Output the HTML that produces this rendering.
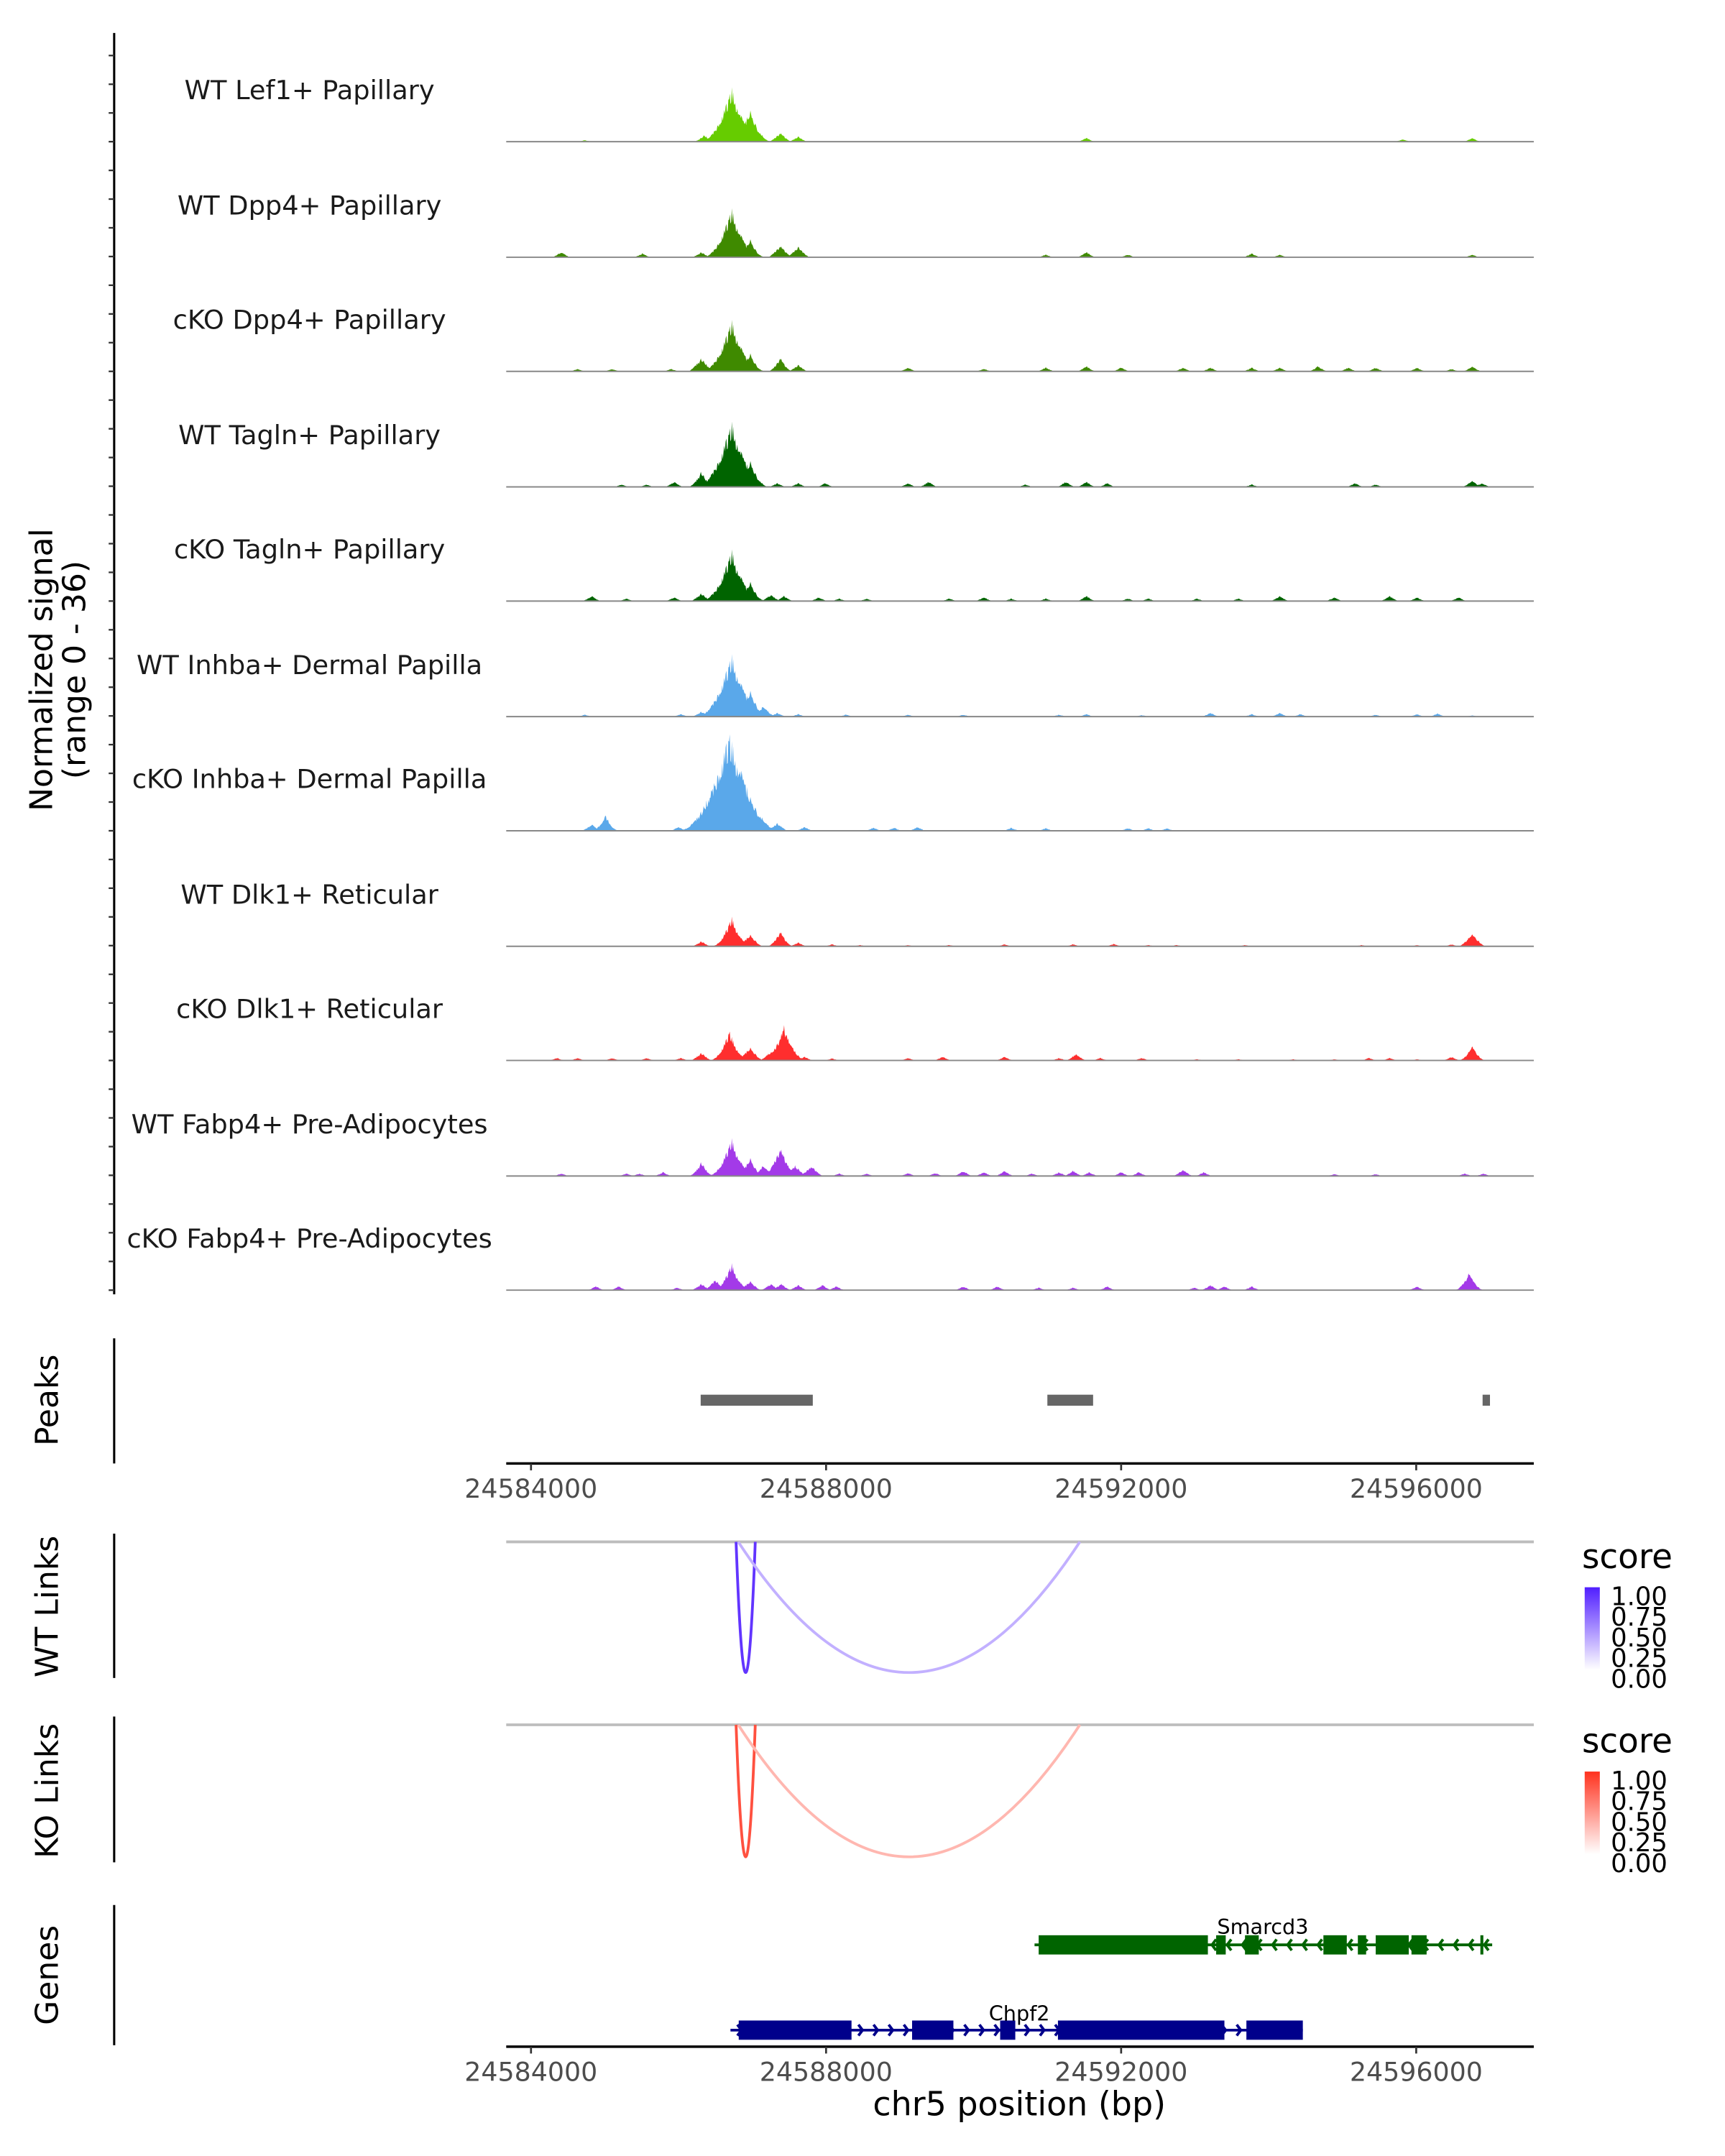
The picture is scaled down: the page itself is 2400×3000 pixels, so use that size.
<!DOCTYPE html>
<html><head><meta charset="utf-8"><style>
html,body{margin:0;padding:0;background:#fff}
svg{display:block}
text{font-family:"DejaVu Sans","Liberation Sans",sans-serif}
</style></head><body>
<svg id="fig" width="2400" height="3000" viewBox="0 0 1254 1567.5" preserveAspectRatio="none" xmlns="http://www.w3.org/2000/svg">
<g id="axes"></g>
<g id="tracks"></g>
<g id="lower"></g>
</svg>
<script>
// ---- data ----
const trackNames = ["WT Lef1+ Papillary","WT Dpp4+ Papillary","cKO Dpp4+ Papillary","WT Tagln+ Papillary","cKO Tagln+ Papillary","WT Inhba+ Dermal Papilla","cKO Inhba+ Dermal Papilla","WT Dlk1+ Reticular","cKO Dlk1+ Reticular","WT Fabp4+ Pre-Adipocytes","cKO Fabp4+ Pre-Adipocytes"];
const trackColors = ["#66cc00","#3f8a00","#3f8a00","#006400","#006400","#5aa8ea","#5aa8ea","#ff2e2e","#ff2e2e","#a33ae8","#a33ae8"];
const t1Pos=[24586720,24586970,24586350,24587380,24587620,24591530,24596760,24595820,24584730];
const t1Val=[20,12,2.5,3.5,2,1.5,1.5,1,0.6];
const t2Pos=[24586720,24586970,24587380,24587620,24586310,24584410,24585510,24591530,24590980,24592090,24593770,24594150,24596760];
const t2Val=[18,7,4.5,4,2,2,1.5,2,1,1,1.5,1,1];
const t3Pos=[24586720,24586970,24586310,24587380,24587620,24584630,24585100,24585900,24589110,24590140,24590980,24591530,24592000,24592840,24593210,24593770,24594150,24594670,24595080,24595450,24596010,24596760,24596480];
const t3Val=[19,7,5,5.5,2.5,1,1,1,1.5,1,1.5,2,1.5,1.5,1.5,1.5,1.5,2,1.5,1.5,1.5,2,1];
const t4Pos=[24586720,24586970,24586310,24585940,24587340,24587620,24587990,24585230,24585570,24589110,24589390,24590700,24591250,24591530,24591810,24593770,24595170,24595450,24596760,24596890];
const t4Val=[24,10,6,2,1.5,1.5,1.5,1,1,1.5,2,1,2,2,1.5,1,1.5,1,2.5,1.5];
const t5Pos=[24586720,24586970,24586310,24586500,24587250,24587430,24584820,24585290,24585940,24587900,24588180,24588550,24589670,24590140,24590510,24590980,24591530,24592090,24592370,24593030,24593590,24594150,24594890,24595640,24596010,24596570];
const t5Val=[19,7.5,3,4,2.5,2,2,1,1.5,1.5,1,1,1,1.5,1,1,2,1,1,1,1,2,1.5,2,1.5,1.5];
const t6Pos=[24586720,24586970,24587150,24586310,24587340,24587620,24584730,24586030,24588270,24589110,24589860,24591160,24591530,24592280,24593210,24593770,24594150,24594430,24595450,24596010,24596290,24596760];
const t6Val=[23,10,4,2,1.5,1,0.8,1,0.8,0.8,0.8,0.8,1,0.6,1.5,1,1.5,1,0.8,1,1.2,0.5];
const t7Pos=[24586690,24586820,24586970,24586500,24586310,24587340,24587710,24585010,24584820,24586000,24588640,24588920,24589240,24590510,24590980,24592090,24592370,24592620];
const t7Val=[36,25,12,4,2.5,3,1.5,6,2.5,1.5,1.2,1.2,1.5,1.2,1,1,1,1];
const t8Pos=[24586720,24586970,24587380,24586310,24587620,24596760,24588080,24588460,24589110,24589670,24590420,24591350,24591900,24592370,24592750,24593680,24595260,24596010,24596480];
const t8Val=[11,4.5,6,2,1.5,5,0.8,0.5,0.5,0.5,0.8,0.8,1,0.5,0.5,0.5,0.5,0.5,0.8];
const t9Pos=[24586690,24586970,24587430,24587250,24586310,24586030,24587710,24584350,24584630,24585100,24585570,24588080,24589110,24589580,24590420,24591160,24591390,24591720,24592280,24593030,24593590,24594330,24594890,24595360,24595640,24596010,24596480,24596760];
const t9Val=[11,5,13,3.5,3,1,1.5,1,1,1,1,0.8,1,1.5,1.5,1,2.5,1,1,0.5,0.5,0.5,0.5,1,1,0.5,1.5,6];
const t10Pos=[24586720,24587380,24586310,24586970,24587150,24587580,24587800,24584410,24585290,24585470,24585790,24588180,24588550,24589110,24589480,24589860,24590140,24590420,24590790,24591160,24591350,24591570,24592000,24592240,24592840,24593120,24594890,24595450,24596660,24596910];
const t10Val=[14,11,5.5,7,4,4,4,1,1,1,1.5,1,1,1.2,1.2,2,1.5,2,1,1.5,2,1.5,1.5,1.5,2.5,1.5,0.8,0.8,1,1];
const t11Pos=[24586720,24586500,24586310,24586970,24587250,24587390,24587620,24587950,24588140,24584880,24585190,24585980,24589860,24590320,24590880,24591350,24591810,24592990,24593210,24593400,24593770,24596010,24596720];
const t11Val=[10,4,2.5,3.5,2.5,2.5,2,2,1.5,1.5,1.5,1,1.5,1.5,1,1,1.5,1,2,1.5,1.5,1.5,7];
const trackPos=[t1Pos,t2Pos,t3Pos,t4Pos,t5Pos,t6Pos,t7Pos,t8Pos,t9Pos,t10Pos,t11Pos];
const trackVal=[t1Val,t2Val,t3Val,t4Val,t5Val,t6Val,t7Val,t8Val,t9Val,t10Val,t11Val];
const peakStarts=[24586300,24591000,24596900];
const peakEnds=[24587820,24591620,24597000];
const xTicks=[24584000,24588000,24592000,24596000];
const wtLinkStart=[24586780,24586810];
const wtLinkEnd=[24587040,24591440];
const wtLinkScore=[0.85,0.3];
const koLinkStart=[24586780,24586810];
const koLinkEnd=[24587040,24591440];
const koLinkScore=[0.8,0.3];
const smarcd3Exons=[[24590882,24593176],[24593288,24593418],[24593679,24593866],[24594742,24595059],[24595209,24595321],[24595451,24595899],[24595936,24596141],[24596870,24596910]];
const smarcd3End=24597030;
const chpf2Exons=[[24586816,24588345],[24589166,24589726],[24590360,24590565],[24591143,24593400],[24593698,24594463]];
const legendLabels=["1.00","0.75","0.50","0.25","0.00"];

// ---- scales ----
const NS="http://www.w3.org/2000/svg";
const X0=368,X1=1115,BP0=24583664,BP1=24597594;
function xs(bp){return X0+(bp-BP0)/(BP1-BP0)*(X1-X0);}
const UNIT=2.03;
function mk(tag,attrs,parent,txt){const e=document.createElementNS(NS,tag);for(const k in attrs)e.setAttribute(k,attrs[k]);if(txt!==undefined)e.textContent=txt;parent.appendChild(e);return e;}
const axes=document.getElementById('axes'),tracksG=document.getElementById('tracks'),lower=document.getElementById('lower');
function rough(px){const s=Math.sin(px*12.9898)*43758.5453;return s-Math.floor(s);}

let a=mk('line',{x1:83,y1:24,x2:83,y2:941,stroke:'#000','stroke-width':1.6},axes);


for(let y=103-20.875*3;y<=940;y+=20.875){mk('line',{x1:79,y1:y,x2:83,y2:y,stroke:'#333','stroke-width':1.2},axes);}
let yt=mk('text',{x:0,y:0,'font-size':23,'text-anchor':'middle',fill:'#000',transform:'translate(42,487) rotate(-90)'},axes);


mk('tspan',{x:0,dy:-4},yt,'Normalized signal');
mk('tspan',{x:0,dy:24},yt,'(range 0 - 36)');

const baselines=[103,187,270,354,437,521,604,688,771,855,938];
trackNames.forEach((name,i)=>{
  const g=mk('g',{},tracksG);
  
  
  const b=baselines[i];
  const lab=mk('text',{x:225,y:b-31,'font-size':19.2,'text-anchor':'middle',fill:'#1a1a1a'},g,name);
  
  
  const pos=trackPos[i],val=trackVal[i];
  let d='M'+X0+','+b;
  for(let px=X0;px<=1082;px+=0.5){
    let v=0;
    for(let k=0;k<pos.length;k++){
      const c=xs(pos[k]);const w=5+val[k]*0.9;const dd=Math.abs(px-c)/w;
      if(dd<1){const s=val[k]*Math.pow(1-dd,val[k]>5?2:1.3);v=Math.max(v,s);}
    }
    v=v*(1-0.3*rough(px));
    d+=' L'+px+','+(b-v*UNIT).toFixed(2);
  }
  d+=' L1082,'+b+' Z';
  const ar=mk('path',{d:d,fill:trackColors[i]},g);
  
  
  mk('line',{x1:X0,y1:b,x2:X1,y2:b,stroke:'#888','stroke-width':1},g);
});

function panelAxis(y1,y2,title,ty){
  const l=mk('line',{x1:83,y1:y1,x2:83,y2:y2,stroke:'#000','stroke-width':1.6},lower);
  
  
  const t=mk('text',{x:0,y:0,'font-size':23,'text-anchor':'middle',fill:'#000',transform:'translate(42,'+ty+') rotate(-90)'},lower,title);
  
  
}
panelAxis(973,1064,'Peaks',1018);
peakStarts.forEach((s,i)=>{
  const r=mk('rect',{x:xs(s),y:1014,width:xs(peakEnds[i])-xs(s),height:8,fill:'#666'},lower);
  
  
});
function xAxis(y){
  const g=mk('g',{},lower);
  
  
  mk('line',{x1:X0,y1:y,x2:X1,y2:y,stroke:'#000','stroke-width':1.8},g);
  xTicks.forEach(t=>{mk('line',{x1:xs(t),y1:y,x2:xs(t),y2:y+5,stroke:'#333','stroke-width':1.4},g);
    const tl=mk('text',{x:xs(t),y:y+25,'font-size':19,'text-anchor':'middle',fill:'#4d4d4d'},g,String(t));
    
    });
}
xAxis(1064);

function lerpColor(c0,c1,t){return 'rgb('+c0.map((v,i)=>Math.round(v+(c1[i]-v)*t)).join(',')+')';}
function links(st,en,sc,y0,yb,hi,title,ty,legY){
  panelAxis(y0-6,yb+4,title,ty);
  mk('line',{x1:X0,y1:y0,x2:X1,y2:y0,stroke:'#bdbdbd','stroke-width':2},lower);
  const cy=y0+2*(yb-y0);
  st.forEach((s,i)=>{
    const p=mk('path',{d:'M'+xs(s)+','+y0+' Q'+((xs(s)+xs(en[i]))/2)+','+cy+' '+xs(en[i])+','+y0,fill:'none',stroke:lerpColor([255,255,255],hi,sc[i]+0.05),'stroke-width':2},lower);
    
    
  });
  const lg=mk('g',{},lower);
  
  
  mk('text',{x:1150,y:legY,'font-size':24.5,fill:'#000'},lg,'score');
  const gid='grad'+title.replace(/ /g,'');
  const defs=mk('defs',{},lg);const gr=mk('linearGradient',{id:gid,x1:0,y1:1,x2:0,y2:0},defs);
  mk('stop',{offset:0,'stop-color':'#fff'},gr);mk('stop',{offset:1,'stop-color':lerpColor([255,255,255],hi,1)},gr);
  mk('rect',{x:1152,y:legY+14,width:11,height:60,fill:'url(#'+gid+')'},lg);
  legendLabels.forEach((l,i)=>mk('text',{x:1171,y:legY+27+i*15,'font-size':18.5,fill:'#000'},lg,l));
}
links(wtLinkStart,wtLinkEnd,wtLinkScore,1121,1216,[80,30,255],'WT Links',1168,1140);
links(koLinkStart,koLinkEnd,koLinkScore,1254,1350,[255,50,30],'KO Links',1302,1274);

panelAxis(1385,1487,'Genes',1436);
function gene(exons,y,col,dir,label,lx,ly,name,endBp){
  const g=mk('g',{},lower);
  
  
  const s=xs(exons[0][0])-(dir<0?3:6),e=endBp?xs(endBp):xs(exons[exons.length-1][1]);
  mk('line',{x1:s,y1:y,x2:e,y2:y,stroke:col,'stroke-width':2},g);
  for(let x=s+8;x<e-4;x+=11){mk('path',{d:dir>0?('M'+(x-3)+','+(y-4)+' L'+x+','+y+' L'+(x-3)+','+(y+4)):('M'+(x+3)+','+(y-4)+' L'+x+','+y+' L'+(x+3)+','+(y+4)),fill:'none',stroke:col,'stroke-width':2},g);}
  exons.forEach(ex=>mk('rect',{x:xs(ex[0]),y:y-7,width:Math.max(2,xs(ex[1])-xs(ex[0])),height:14,fill:col},g));
  mk('text',{x:lx,y:ly,'font-size':15,'text-anchor':'middle',fill:'#000'},g,label);
}
gene(smarcd3Exons,1414,'#006400',-1,'Smarcd3',918,1406,'gene-smarcd3',smarcd3End);
gene(chpf2Exons,1476,'#00008b',1,'Chpf2',741,1469,'gene-chpf2');
xAxis(1488);
const xt=mk('text',{x:741,y:1538,'font-size':24,'text-anchor':'middle',fill:'#000'},lower,'chr5 position (bp)');


</script>
</body></html>
